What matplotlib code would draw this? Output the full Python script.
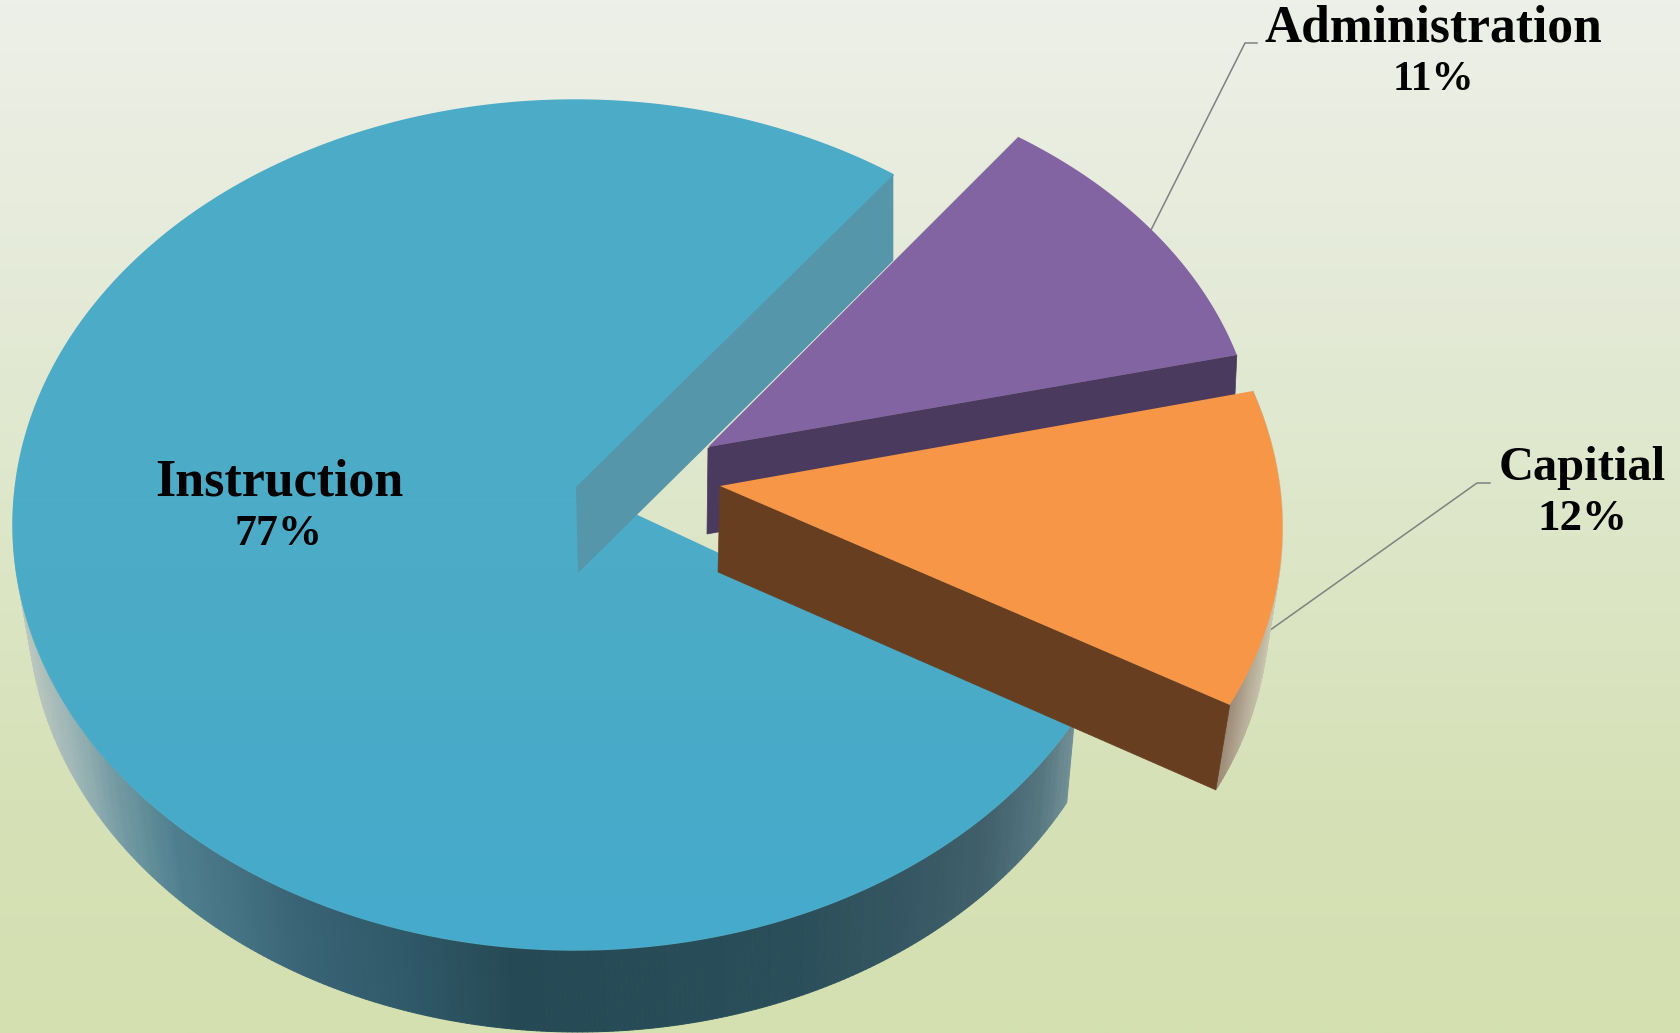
#!/usr/bin/env python3
"""Exploded 3D-style pie of spending shares, projected by hand onto a pixel canvas."""

import numpy as np
import matplotlib
matplotlib.use('Agg')
import matplotlib.pyplot as plt
from matplotlib.collections import PolyCollection
from matplotlib.colors import LinearSegmentedColormap, Normalize
from matplotlib.patches import Polygon

WIDTH, HEIGHT = 1681, 1033

categories = ['Instruction', 'Administration', 'Capitial']
shares = [77, 11, 12]

START_ANGLE = 55.5  # where Instruction starts, Administration runs clockwise from here

TOP_COLORS = ['#4cabc7', '#8364a3', '#f79646']
CUT_COLORS = ['#5596ab', '#4a3a5d', '#673f20']

# x positions along the rim wall -> shade
MAIN_WALL_X = [12, 34, 80, 126, 184, 298, 413, 517, 640, 800, 900, 980, 1040, 1080]
MAIN_WALL_SHADE = ['#cdd3c4', '#bcc8bf', '#9db5b6', '#739aa3', '#4f7f8f', '#3a6576',
                   '#2f5868', '#264a55', '#284c57', '#2b4f5a', '#345662', '#405f6a',
                   '#567680', '#7c999e']
SLIVER_X = [1215, 1240, 1270]
SLIVER_SHADE = ['#9b8a76', '#b8ae99', '#d0d0b9']

BG_Y = [0, 300, 500, 800, 1033]
BG_SHADE = ['#edf0e8', '#e4ead7', '#dee7ca', '#d6e1b7', '#d4e0b0']
TOP_Y = [100, 500, 700, 950]
TOP_SHADE = ['#4cabc6', '#4dacc7', '#4aabc8', '#45aacc']

# label text: centre x, baselines of both lines, font sizes in px
label_x = [279, 1433, 1582]
label_y1 = [495, 42, 480]
label_y2 = [545, 90, 530]
label_px = [52, 51.5, 48.5]
percent_px = [44, 42, 45]


def slice_rim(t, cx, cy, rx, ry, shear=0.0):
    c, s = np.cos(np.radians(t)), np.sin(np.radians(t))
    return np.column_stack([cx + rx * c + shear * s, cy - ry * s])


def ramp(stops, shades):
    lo, hi = stops[0], stops[-1]
    pos = [(v - lo) / (hi - lo) for v in stops]
    return LinearSegmentedColormap.from_list('ramp', list(zip(pos, shades))), Normalize(lo, hi)


def wall_strips(ax, top, bottom, stops, shades, zorder):
    """Curved wall as thin quads, shaded by their x position."""
    cmap, norm = ramp(stops, shades)
    quads = [[top[i], top[i + 1], bottom[i + 1], bottom[i]] for i in range(len(top) - 1)]
    mid = 0.5 * (bottom[:-1, 0] + bottom[1:, 0])
    ax.add_collection(PolyCollection(quads, facecolors=cmap(norm(mid)),
                                     edgecolors=cmap(norm(mid)), linewidths=0.7, zorder=zorder))


fig = plt.figure(figsize=(WIDTH / 100, HEIGHT / 100), dpi=100)
ax = fig.add_axes([0, 0, 1, 1])

# backdrop
cmap, norm = ramp(BG_Y, BG_SHADE)
ax.imshow(norm(np.linspace(0, HEIGHT, 512))[:, None], cmap=cmap, vmin=0, vmax=1, aspect='auto',
          extent=(0, WIDTH, HEIGHT, 0), zorder=0)

sweeps = [3.6 * v for v in shares]
main_end = START_ANGLE + sweeps[0]
admin_end = START_ANGLE - sweeps[1]
capital_end = admin_end - sweeps[2]

# Instruction slice, the base of the disc is a bit narrower because of the perspective
main_disc = dict(cx=575, cy=525, rx=562, ry=425)
main_base = dict(cx=578, cy=608, rx=550, ry=424)
t = np.linspace(175, main_end, 300)
wall_strips(ax, slice_rim(t, **main_disc), slice_rim(t, **main_base),
            MAIN_WALL_X, MAIN_WALL_SHADE, 1)

main_apex = np.array([576.0, 487.0])
t = np.linspace(START_ANGLE, main_end, 500)
main_top = np.vstack([main_apex, slice_rim(t, **main_disc)])
cmap, norm = ramp(TOP_Y, TOP_SHADE)
grad = ax.imshow(norm(np.linspace(100, 950, 256))[:, None], cmap=cmap, vmin=0, vmax=1,
                 aspect='auto', extent=(0, WIDTH, 950, 100), zorder=2)
grad.set_clip_path(Polygon(main_top, closed=True, transform=ax.transData))
ax.add_patch(Polygon(main_top, closed=True, fill=False, ec=TOP_COLORS[0], lw=1.0, zorder=2))

cut_top = main_top[1]
ax.add_patch(Polygon([main_apex, cut_top, cut_top + [0, 87], main_apex + [2, 86]],
                     closed=True, fc=CUT_COLORS[0], ec='none', zorder=3))

# Administration slice
admin = dict(cx=705, cy=463.6, rx=553, ry=396.4)
admin_apex = np.array([708.0, 447.0])
t = np.linspace(START_ANGLE, admin_end, 100)
admin_top = np.vstack([admin_apex, slice_rim(t, **admin)])
ax.add_patch(Polygon([admin_apex, admin_top[-1], admin_top[-1] + [-4, 85], admin_apex + [-1, 87]],
                     closed=True, fc=CUT_COLORS[1], ec=CUT_COLORS[1], lw=0.5, zorder=4))
ax.add_patch(Polygon(admin_top, closed=True, fc=TOP_COLORS[1], ec='none', zorder=5))
ax.plot([admin_apex[0], admin_top[1, 0]], [admin_apex[1], admin_top[1, 1]],
        color='#e2e8d2', lw=1.3, zorder=4.5)

# Capitial slice
capital = dict(cx=706, cy=508.4, rx=576, ry=428.4, shear=-26)
capital_apex = np.array([720.0, 486.0])
t = np.linspace(admin_end, capital_end, 100)
capital_top = np.vstack([capital_apex, slice_rim(t, **capital)])
rim = capital_top[1:]
wall_strips(ax, rim, rim + [-14, 85], SLIVER_X, SLIVER_SHADE, 6)
ax.add_patch(Polygon([capital_apex, rim[-1], rim[-1] + [-14, 85], capital_apex + [-2, 86]],
                     closed=True, fc=CUT_COLORS[2], ec=CUT_COLORS[2], lw=0.5, zorder=7))
ax.add_patch(Polygon(capital_top, closed=True, fc=TOP_COLORS[2], ec='none', zorder=8))

# leader lines
ax.plot([1150, 1245, 1257], [232, 43, 43], color='#808080', lw=1.1, zorder=3)
ax.plot([1266, 1477, 1490], [633, 483, 483], color='#808080', lw=1.1, zorder=3)

# labels
for i, name in enumerate(categories):
    ax.text(label_x[i], label_y1[i], name, ha='center', va='baseline',
            fontsize=label_px[i] * 72 / fig.dpi, fontweight='bold',
            family='Liberation Serif', color='black', zorder=10)
    ax.text(label_x[i], label_y2[i], f'{shares[i]}%', ha='center', va='baseline',
            fontsize=percent_px[i] * 72 / fig.dpi, fontweight='bold',
            family='Liberation Serif', color='black', zorder=10)

ax.set_xlim(0, WIDTH)
ax.set_ylim(HEIGHT, 0)
ax.axis('off')

fig.savefig('out.png', dpi=100)
